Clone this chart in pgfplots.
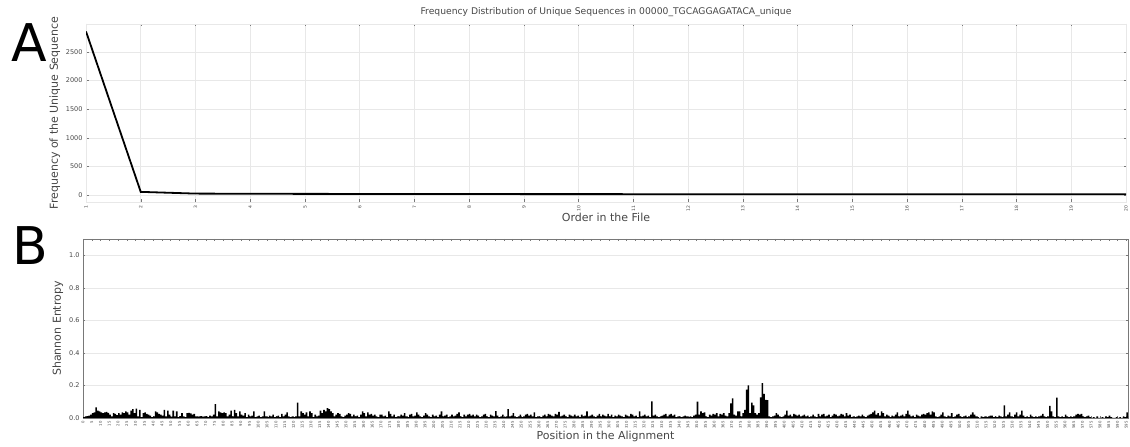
\documentclass[border=0pt]{standalone}
\usepackage{fontspec}
\setmainfont{DejaVu Sans}
\usepackage{pgfplots}
\usepackage{pgfplotstable}
\pgfplotsset{compat=1.18}
\definecolor{gridc}{RGB}{232,232,232}
\definecolor{tickc}{RGB}{120,120,120}
\definecolor{labc}{RGB}{70,70,70}

\pgfplotstableread[row sep=\\]{
y\\
0.005\\ 0.01\\ 0.012\\ 0.015\\ 0.02\\ 0.03\\ 0.035\\ 0.065\\ 0.045\\ 0.04\\
0.035\\ 0.03\\ 0.035\\ 0.038\\ 0.032\\ 0.02\\ 0.01\\ 0.03\\ 0.025\\ 0.018\\
0.03\\ 0.02\\ 0.035\\ 0.03\\ 0.04\\ 0.035\\ 0.02\\ 0.045\\ 0.055\\ 0.03\\
0.058\\ 0.01\\ 0.05\\ 0.005\\ 0.03\\ 0.035\\ 0.025\\ 0.02\\ 0.015\\ 0.005\\
0.01\\ 0.04\\ 0.035\\ 0.025\\ 0.02\\ 0.015\\ 0.05\\ 0.01\\ 0.045\\ 0.02\\
0.008\\ 0.045\\ 0.01\\ 0.04\\ 0.005\\ 0.012\\ 0.03\\ 0.01\\ 0.005\\ 0.03\\
0.032\\ 0.028\\ 0.02\\ 0.025\\ 0.01\\ 0.008\\ 0.01\\ 0.012\\ 0.008\\ 0.01\\
0.012\\ 0.005\\ 0.015\\ 0.01\\ 0.02\\ 0.085\\ 0.01\\ 0.04\\ 0.035\\ 0.03\\
0.035\\ 0.03\\ 0.01\\ 0.02\\ 0.045\\ 0.01\\ 0.05\\ 0.03\\ 0.01\\ 0.04\\
0.02\\ 0.015\\ 0.03\\ 0.005\\ 0.02\\ 0.01\\ 0.015\\ 0.04\\ 0.005\\ 0.01\\
0.015\\ 0.005\\ 0.01\\ 0.04\\ 0.01\\ 0.005\\ 0.015\\ 0.01\\ 0.02\\ 0.005\\
0.01\\ 0.015\\ 0.005\\ 0.025\\ 0.01\\ 0.02\\ 0.035\\ 0.01\\ 0.005\\ 0.01\\
0.005\\ 0.01\\ 0.095\\ 0.01\\ 0.04\\ 0.03\\ 0.02\\ 0.035\\ 0.01\\ 0.04\\
0.03\\ 0.005\\ 0.02\\ 0.01\\ 0.015\\ 0.045\\ 0.03\\ 0.05\\ 0.04\\ 0.06\\
0.055\\ 0.04\\ 0.03\\ 0.01\\ 0.02\\ 0.03\\ 0.025\\ 0.01\\ 0.005\\ 0.015\\
0.02\\ 0.03\\ 0.025\\ 0.01\\ 0.02\\ 0.01\\ 0.015\\ 0.005\\ 0.02\\ 0.04\\
0.03\\ 0.01\\ 0.035\\ 0.02\\ 0.025\\ 0.015\\ 0.02\\ 0.01\\ 0.005\\ 0.02\\
0.02\\ 0.01\\ 0.015\\ 0.005\\ 0.04\\ 0.025\\ 0.01\\ 0.02\\ 0.005\\ 0.01\\
0.01\\ 0.02\\ 0.015\\ 0.03\\ 0.01\\ 0.005\\ 0.02\\ 0.025\\ 0.01\\ 0.015\\
0.035\\ 0.02\\ 0.01\\ 0.005\\ 0.015\\ 0.03\\ 0.02\\ 0.01\\ 0.005\\ 0.02\\
0.01\\ 0.015\\ 0.005\\ 0.02\\ 0.04\\ 0.01\\ 0.015\\ 0.02\\ 0.005\\ 0.01\\
0.02\\ 0.01\\ 0.015\\ 0.025\\ 0.035\\ 0.01\\ 0.005\\ 0.02\\ 0.01\\ 0.02\\
0.025\\ 0.015\\ 0.02\\ 0.01\\ 0.02\\ 0.015\\ 0.005\\ 0.01\\ 0.02\\ 0.025\\
0.01\\ 0.005\\ 0.02\\ 0.015\\ 0.01\\ 0.043\\ 0.015\\ 0.005\\ 0.01\\ 0.02\\
0.005\\ 0.01\\ 0.055\\ 0.01\\ 0.015\\ 0.03\\ 0.01\\ 0.005\\ 0.01\\ 0.02\\
0.005\\ 0.01\\ 0.02\\ 0.025\\ 0.015\\ 0.02\\ 0.01\\ 0.035\\ 0.005\\ 0.01\\
0.01\\ 0.005\\ 0.015\\ 0.02\\ 0.01\\ 0.025\\ 0.02\\ 0.015\\ 0.01\\ 0.025\\
0.02\\ 0.038\\ 0.01\\ 0.015\\ 0.02\\ 0.01\\ 0.005\\ 0.02\\ 0.015\\ 0.01\\
0.02\\ 0.01\\ 0.015\\ 0.005\\ 0.02\\ 0.01\\ 0.015\\ 0.04\\ 0.01\\ 0.015\\
0.02\\ 0.01\\ 0.005\\ 0.015\\ 0.025\\ 0.01\\ 0.02\\ 0.015\\ 0.01\\ 0.025\\
0.01\\ 0.02\\ 0.005\\ 0.015\\ 0.01\\ 0.02\\ 0.015\\ 0.01\\ 0.005\\ 0.02\\
0.015\\ 0.01\\ 0.025\\ 0.02\\ 0.01\\ 0.015\\ 0.005\\ 0.04\\ 0.01\\ 0.015\\
0.02\\ 0.01\\ 0.015\\ 0.005\\ 0.102\\ 0.015\\ 0.02\\ 0.01\\ 0.005\\ 0.01\\
0.015\\ 0.02\\ 0.025\\ 0.01\\ 0.02\\ 0.025\\ 0.015\\ 0.02\\ 0.005\\ 0.01\\
0.01\\ 0.005\\ 0.01\\ 0.015\\ 0.01\\ 0.005\\ 0.01\\ 0.005\\ 0.015\\ 0.02\\
0.1\\ 0.02\\ 0.04\\ 0.03\\ 0.035\\ 0.01\\ 0.005\\ 0.02\\ 0.015\\ 0.025\\
0.02\\ 0.03\\ 0.01\\ 0.025\\ 0.02\\ 0.03\\ 0.015\\ 0.01\\ 0.03\\ 0.09\\
0.12\\ 0.02\\ 0.015\\ 0.04\\ 0.04\\ 0.01\\ 0.03\\ 0.05\\ 0.175\\ 0.2\\
0.03\\ 0.094\\ 0.078\\ 0.03\\ 0.02\\ 0.03\\ 0.127\\ 0.214\\ 0.149\\ 0.112\\
0.11\\ 0.01\\ 0.005\\ 0.01\\ 0.015\\ 0.03\\ 0.02\\ 0.01\\ 0.005\\ 0.01\\
0.02\\ 0.045\\ 0.015\\ 0.02\\ 0.01\\ 0.025\\ 0.02\\ 0.015\\ 0.02\\ 0.01\\
0.015\\ 0.02\\ 0.01\\ 0.015\\ 0.005\\ 0.01\\ 0.02\\ 0.01\\ 0.005\\ 0.025\\
0.01\\ 0.02\\ 0.025\\ 0.01\\ 0.015\\ 0.02\\ 0.005\\ 0.015\\ 0.025\\ 0.02\\
0.01\\ 0.015\\ 0.025\\ 0.02\\ 0.01\\ 0.03\\ 0.015\\ 0.02\\ 0.005\\ 0.01\\
0.005\\ 0.01\\ 0.015\\ 0.01\\ 0.02\\ 0.01\\ 0.005\\ 0.015\\ 0.02\\ 0.025\\
0.035\\ 0.045\\ 0.02\\ 0.03\\ 0.015\\ 0.04\\ 0.03\\ 0.01\\ 0.02\\ 0.015\\
0.005\\ 0.015\\ 0.01\\ 0.02\\ 0.035\\ 0.01\\ 0.015\\ 0.02\\ 0.01\\ 0.025\\
0.045\\ 0.02\\ 0.01\\ 0.015\\ 0.005\\ 0.02\\ 0.015\\ 0.01\\ 0.02\\ 0.025\\
0.02\\ 0.03\\ 0.035\\ 0.02\\ 0.04\\ 0.035\\ 0.01\\ 0.005\\ 0.01\\ 0.02\\
0.035\\ 0.01\\ 0.005\\ 0.015\\ 0.01\\ 0.03\\ 0.005\\ 0.01\\ 0.02\\ 0.025\\
0.01\\ 0.005\\ 0.01\\ 0.015\\ 0.005\\ 0.01\\ 0.02\\ 0.035\\ 0.02\\ 0.01\\
0.005\\ 0\\ 0.01\\ 0.005\\ 0.01\\ 0.005\\ 0.01\\ 0.015\\ 0.015\\ 0.005\\
0.01\\ 0.005\\ 0.015\\ 0.01\\ 0.005\\ 0.078\\ 0.01\\ 0.02\\ 0.035\\ 0.01\\
0.005\\ 0.02\\ 0.035\\ 0.01\\ 0.02\\ 0.045\\ 0.015\\ 0.005\\ 0.01\\ 0.005\\
0.02\\ 0.01\\ 0.005\\ 0.01\\ 0.005\\ 0.01\\ 0.015\\ 0.025\\ 0.01\\ 0.005\\
0.01\\ 0.075\\ 0.04\\ 0.01\\ 0.005\\ 0.125\\ 0.01\\ 0.005\\ 0.01\\ 0.005\\
0.02\\ 0.01\\ 0.005\\ 0.01\\ 0.005\\ 0.01\\ 0.02\\ 0.025\\ 0.02\\ 0.025\\
0.01\\ 0.005\\ 0.01\\ 0.015\\ 0.005\\ 0\\ 0.005\\ 0\\ 0.01\\ 0\\
0\\ 0.005\\ 0\\ 0.01\\ 0.005\\ 0.015\\ 0.005\\ 0\\ 0\\ 0.005\\
0\\ 0.005\\ 0\\ 0.01\\ 0.005\\ 0.035\\ 0.01\\
}\entropy

\begin{document}
\begin{tikzpicture}
\path[use as bounding box] (0,0) rectangle (1130pt,447pt);

\begin{axis}[
  at={(86pt,245pt)}, anchor=south west, scale only axis,
  width=1040pt, height=178pt,
  xmin=1, xmax=20, ymin=-122, ymax=2990,
  xtick={1,...,20}, ytick={0,500,1000,1500,2000,2500},
  grid=major, grid style={gridc, line width=0.5pt},
  axis line style={gridc},
  tick style={tickc, line width=0.4pt}, major tick length=2.5pt,
  /pgf/number format/assume math mode=true,
  /pgf/number format/1000 sep={},
  scaled ticks=false,
  tick label style={labc},
  xticklabel style={rotate=90, anchor=east, font=\fontsize{4.5}{5}\selectfont},
  yticklabel style={font=\fontsize{6.5}{7}\selectfont},
  title={Frequency Distribution of Unique Sequences in 00000\_TGCAGGAGATACA\_unique},
  title style={font=\fontsize{9.2}{10}\selectfont, color=labc, yshift=-2pt},
  xlabel={Order in the File},
  ylabel={Frequency of the Unique Sequence},
  label style={font=\fontsize{11}{12}\selectfont, color=labc},
  xlabel style={yshift=5pt},
  ylabel style={yshift=-1pt},
]
\addplot[black, line width=1.8pt] coordinates {
(1,2860) (2,55) (3,25) (4,22) (5,20) (6,19) (7,18) (8,17) (9,16) (10,16)
(11,15) (12,15) (13,14) (14,14) (15,13) (16,13) (17,13) (18,12) (19,12) (20,12)};
\end{axis}

\begin{axis}[
  at={(83pt,29pt)}, anchor=south west, scale only axis,
  width=1045pt, height=179pt,
  xmin=0, xmax=596, ymin=0, ymax=1.1,
  xtick={0,5,...,595}, ytick={0,0.2,0.4,0.6,0.8,1.0},
  ymajorgrids, grid style={gridc, line width=0.5pt},
  axis line style={tickc},
  tick style={tickc, line width=0.4pt}, major tick length=2pt,
  /pgf/number format/assume math mode=true,
  yticklabel style={/pgf/number format/fixed, /pgf/number format/fixed zerofill, /pgf/number format/precision=1, font=\fontsize{6.5}{7}\selectfont},
  tick label style={labc},
  xticklabel style={rotate=90, anchor=east, font=\fontsize{3.8}{4}\selectfont},
  xlabel={Position in the Alignment},
  ylabel={Shannon Entropy},
  label style={font=\fontsize{11}{12}\selectfont, color=labc},
  xlabel style={yshift=5pt},
  ylabel style={yshift=-1pt},
]
\addplot[ybar, bar width=0.9, bar shift=0.45, fill=black, draw=none] table[x expr=\coordindex, y=y] {\entropy};
\end{axis}

\node[font=\fontsize{52}{52}\selectfont, inner sep=0pt] at (29pt,404pt) {A};
\node[font=\fontsize{52}{52}\selectfont, inner sep=0pt] at (30pt,201pt) {B};
\end{tikzpicture}
\end{document}
